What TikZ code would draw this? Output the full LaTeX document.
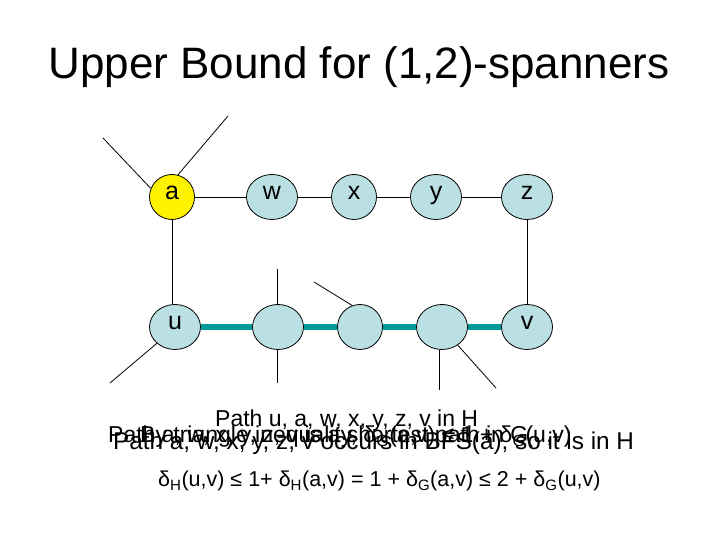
\documentclass[tikz,border=0pt]{standalone}
\usepackage{fontspec}
\setmainfont{Liberation Sans}
\usetikzlibrary{shapes.geometric}
\definecolor{nodefill}{RGB}{187,224,227}
\definecolor{pathteal}{RGB}{0,153,153}
\tikzset{
  vert/.style={ellipse, draw=black, line width=0.8pt, fill=nodefill, inner sep=0pt,
    minimum width=51pt, minimum height=45pt, font=\fontsize{25}{28}\selectfont,
    text height=1.1ex, text depth=0.1ex},
  roundvert/.style={vert, minimum width=45pt},
  edge/.style={draw=black, line width=0.8pt},
  hpath/.style={draw=pathteal, line width=6pt},
  bodytext/.style={anchor=base west, inner sep=0pt, font=\fontsize{23}{26}\selectfont},
}
\begin{document}
\begin{tikzpicture}[x=1pt,y=1pt]
\useasboundingbox (0,0) rectangle (720,540);
% title
\node[anchor=base, inner sep=0pt, font=\fontsize{44}{50}\selectfont] (title) at (359,461) {Upper Bound for (1,2)-spanners};
% vertices
\node[roundvert, fill=yellow] (a) at (172,343) {a};
\node[vert] (w) at (272,343) {w};
\node[roundvert] (x) at (354,343) {x};
\node[vert] (y) at (436,343) {y};
\node[vert] (z) at (527,343) {z};
\node[vert] (u) at (175,213) {u};
\node[vert] (b1) at (278,213) {};
\node[roundvert] (b2) at (360,213) {};
\node[vert] (b3) at (442,213) {};
\node[vert] (v) at (527,213) {v};
% free ends of stubs
\coordinate (sa1) at (103,402);
\coordinate (sa2) at (228,424);
\coordinate (su) at (110,157);
\coordinate (sb1u) at (277,271);
\coordinate (sb1d) at (277,157);
\coordinate (sb2) at (314,258);
\coordinate (sb3d) at (439,150);
\coordinate (sb3r) at (496,152);
% edges
\draw[edge] (a) -- (w);
\draw[edge] (w) -- (x);
\draw[edge] (x) -- (y);
\draw[edge] (y) -- (z);
\draw[edge] (a) -- (a |- u.north);
\draw[edge] (z) -- (v);
\draw[hpath] (u) -- (b1);
\draw[hpath] (b1) -- (b2);
\draw[hpath] (b2) -- (b3);
\draw[hpath] (b3) -- (v);
% stubs
\draw[edge] (sa1) -- (a.158);
\draw[edge] (sa2) -- (a.75);
\draw[edge] (su) -- (u.222);
\draw[edge] (sb1u) -- (sb1u |- b1.north);
\draw[edge] (sb1d |- b1.south) -- (sb1d);
\draw[edge] (sb2) -- (b2.110);
\draw[edge] (sb3d |- b3.south) -- (sb3d);
\draw[edge] (b3.311) -- (sb3r);
% texts
\node[bodytext] (t1) at (215,113) {Path u, a, w, x, y, z, v in H};
\node[bodytext] (t2) at (108,97) {Path a, w, x, y, z, v is a shortest path in G};
\node[bodytext] (t3) at (140,97) {By triangle inequality, δ\textsubscript{G}(a,v) ≤ 1 + δ\textsubscript{G}(u,v)};
\node[bodytext, font=\fontsize{24.3}{27}\selectfont] (t4) at (113,90) {Path a, w, x, y, z, v occurs in BFS(a), so it is in H};
\node[bodytext, font=\fontsize{21.5}{25}\selectfont] (t5) at (158,53) {δ\textsubscript{H}(u,v) ≤ 1+ δ\textsubscript{H}(a,v) = 1 + δ\textsubscript{G}(a,v) ≤ 2 + δ\textsubscript{G}(u,v)};
\end{tikzpicture}
\end{document}
